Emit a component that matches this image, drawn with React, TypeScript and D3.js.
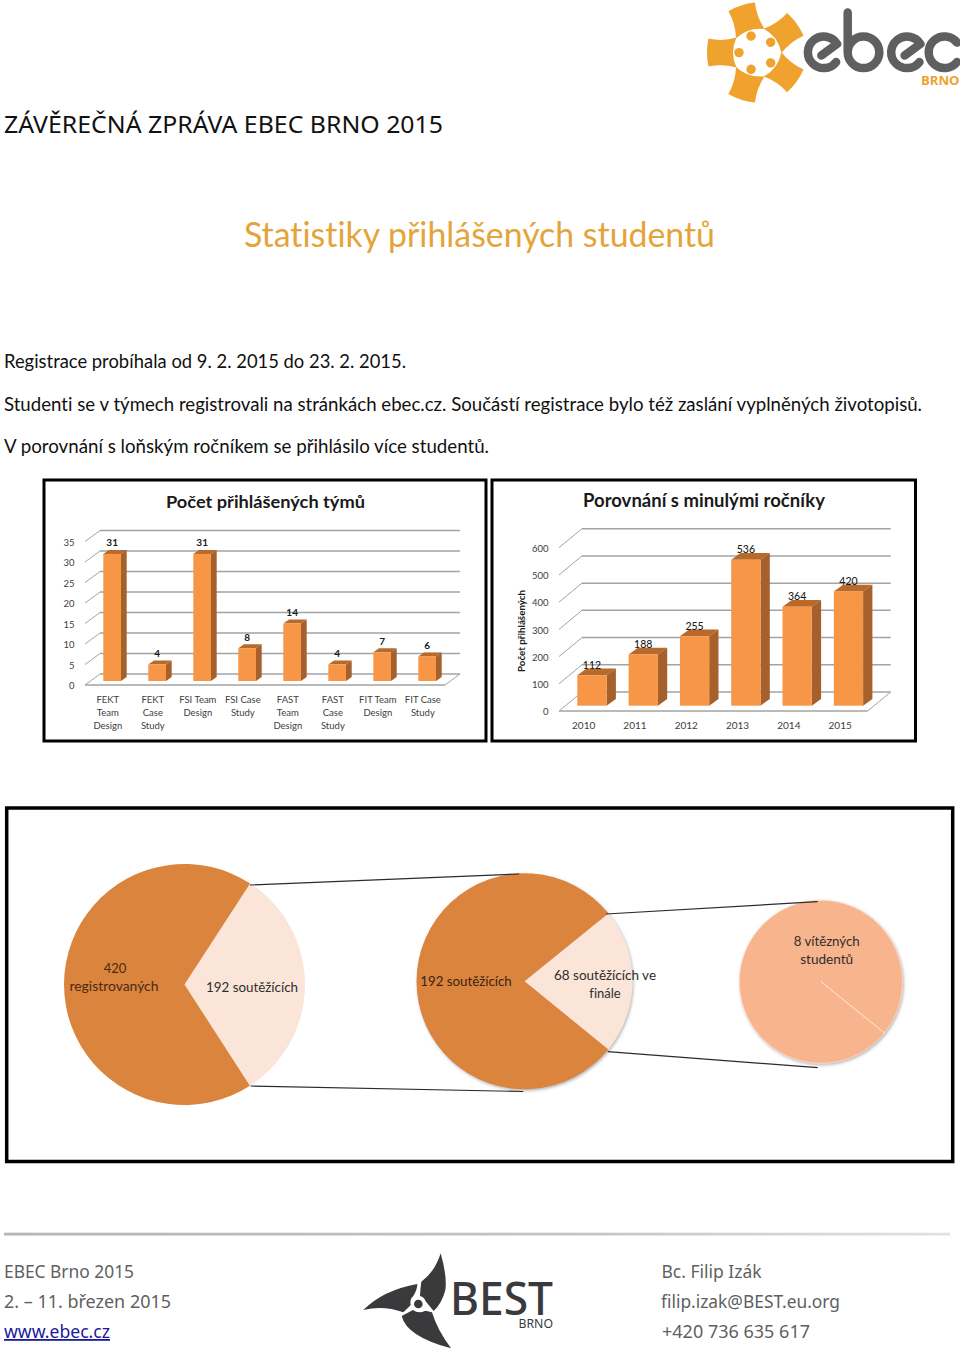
import React from "react";
import * as d3 from "d3";

// ---------- data ----------
const teamCategories = ["FEKT Team Design", "FEKT Case Study", "FSI Team Design", "FSI Case Study", "FAST Team Design", "FAST Case Study", "FIT Team Design", "FIT Case Study"];
const teamCategoryLines = [["FEKT", "Team", "Design"], ["FEKT", "Case", "Study"], ["FSI Team", "Design"], ["FSI Case", "Study"], ["FAST", "Team", "Design"], ["FAST", "Case", "Study"], ["FIT Team", "Design"], ["FIT Case", "Study"]];
const teamValues = [31, 4, 31, 8, 14, 4, 7, 6];
const teamTicks = [0, 5, 10, 15, 20, 25, 30, 35];

const years = ["2010", "2011", "2012", "2013", "2014", "2015"];
const yearValues = [112, 188, 255, 536, 364, 420];
const yearTicks = [0, 100, 200, 300, 400, 500, 600];

// slice shares as drawn in the picture (not proportional to the captions)
const pieOneShares = [0.317, 0.683];
const pieTwoShares = [0.217, 0.783];
const pieThreeShares = [0.9995, 0.0005];

const bodyLines = [
  "Registrace probíhala od 9. 2. 2015 do 23. 2. 2015.",
  "Studenti se v týmech registrovali na stránkách ebec.cz. Součástí registrace bylo též zaslání vyplněných životopisů.",
  "V porovnání s loňským ročníkem se přihlásilo více studentů.",
];

const LATO = "Lato, sans-serif";
const NOTO = "'Noto Sans', sans-serif";
const ORANGE_FRONT = "#F79646";
const ORANGE_TOP = "#B96A2A";
const ORANGE_SIDE = "#A5602C";
const GRID = "#a3a3a3";
const PIE_DARK = "#DB843D";
const PIE_LIGHT = "#FBE5D9";
const PIE_PEACH = "#F8B48C";

type TProps = { x: number; y: number; w?: number; size: number; fill?: string; font?: string; weight?: number | string; anchor?: string; children: React.ReactNode; underline?: boolean; transform?: string };
function T({ x, y, w, size, fill = "#111", font = LATO, weight = 400, anchor = "start", children, underline, transform }: TProps) {
  return (
    <text x={x} y={y} fontSize={size} fill={fill} fontFamily={font} fontWeight={weight} textAnchor={anchor}
      textLength={w} lengthAdjust={w ? "spacingAndGlyphs" : undefined} textDecoration={underline ? "underline" : undefined} transform={transform}
      style={{ fontVariantLigatures: "none" }}>
      {children}
    </text>
  );
}

type Bar3DProps = {
  categories: string[]; values: number[]; ticks: number[];
  x: d3.ScaleBand<string>; y: d3.ScaleLinear<number, number>;
  wall: [number, number]; floorRight: number; barDepth: [number, number]; barLift: number; tickX: number;
  labelOffset: number; labelWeight: number; labelSize: number;
};
function Bars3D({ categories, values, ticks, x, y, wall, floorRight, barDepth, barLift, tickX, labelOffset, labelWeight, labelSize }: Bar3DProps) {
  const [wx, wy] = wall;
  const [dx, dy] = barDepth;
  const bw = x.bandwidth();
  const frontLeft = tickX + 10.5;
  return (
    <g>
      {ticks.map((t) => (
        <g key={t}>
          <line x1={frontLeft} y1={y(t)} x2={frontLeft + wx} y2={y(t) + wy} stroke={GRID} strokeWidth={1} />
          <line x1={frontLeft + wx} y1={y(t) + wy} x2={floorRight + wx} y2={y(t) + wy} stroke={GRID} strokeWidth={1.5} />
          <text x={tickX} y={y(t)} dy="0.45em" textAnchor="end" fontSize={9.5} fontFamily={LATO} fill="#404040">{t}</text>
        </g>
      ))}
      <line x1={frontLeft} y1={y(0)} x2={floorRight} y2={y(0)} stroke={GRID} strokeWidth={1.5} />
      <line x1={floorRight} y1={y(0)} x2={floorRight + wx} y2={y(0) + wy} stroke={GRID} strokeWidth={1} />
      {categories.map((c, i) => {
        const bx = x(c) as number;
        const base = y(0) - barLift;
        const top = y(values[i]) - barLift;
        return (
          <g key={c}>
            <path d={`M${bx},${top}L${bx + dx},${top + dy}L${bx + bw + dx},${top + dy}L${bx + bw},${top}Z`} fill={ORANGE_TOP} />
            <path d={`M${bx + bw},${top}L${bx + bw + dx},${top + dy}L${bx + bw + dx},${base + dy}L${bx + bw},${base}Z`} fill={ORANGE_SIDE} />
            <rect x={bx} y={top} width={bw} height={base - top} fill={ORANGE_FRONT} />
            <text x={bx + bw / 2} y={top - labelOffset} dy="0.35em" textAnchor="middle" fontSize={labelSize} fontWeight={labelWeight} fontFamily={LATO} fill="#1a1a1a">{values[i]}</text>
          </g>
        );
      })}
    </g>
  );
}

function Pie({ shares, cx, cy, r, start, fills, stroke, strokeWidth, filter }: { shares: number[]; cx: number; cy: number; r: number; start: number; fills: string[]; stroke?: string; strokeWidth?: number; filter?: string }) {
  const rad = (start * Math.PI) / 180;
  const slices = d3.pie<number>().sort(null).startAngle(rad).endAngle(rad + 2 * Math.PI)(shares);
  const arc = d3.arc<d3.PieArcDatum<number>>().innerRadius(0).outerRadius(r);
  return (
    <g transform={`translate(${cx},${cy})`} filter={filter}>
      {slices.map((s, i) => (
        <path key={i} d={arc(s) as string} fill={fills[i]} stroke={stroke} strokeWidth={strokeWidth} />
      ))}
    </g>
  );
}

function ebecE(cx: number, cy: number, r: number) {
  const a = (38 * Math.PI) / 180, b = (-32 * Math.PI) / 180;
  return `M${cx + r * Math.cos(a)},${cy + r * Math.sin(a)}A${r},${r} 0 1 1 ${cx + r * Math.cos(b)},${cy + r * Math.sin(b)}L${cx - 0.15 * r},${cy + 0.2 * r}`;
}
function ebecC(cx: number, cy: number, r: number) {
  const a = (38 * Math.PI) / 180;
  return `M${cx + r * Math.cos(a)},${cy + r * Math.sin(a)}A${r},${r} 0 1 1 ${cx + r * Math.cos(a)},${cy - r * Math.sin(a)}`;
}

function EbecLogo() {
  const c: [number, number] = [756.5, 52.6];
  const angles = [-18, 54, 126, 198, 270];
  const gold = "#EFA22D";
  return (
    <g>
      {angles.map((a) => (
        <g key={a} transform={`translate(${c[0]},${c[1]}) rotate(${a})`}>
          <path d="M-15,-20Q0,-27 15,-20Q11,-34 14,-48Q0,-51 -14,-48Q-11,-34 -15,-20Z" fill={gold} />
          <circle cx={0} cy={-17.5} r={4.7} fill={gold} />
        </g>
      ))}
      <g fill="none" stroke="#5E5F61" strokeWidth={8.5} strokeLinecap="round" strokeLinejoin="round">
        <path d={ebecE(823.7, 52.3, 15.8)} />
        <path d={`M847.7,12.5V52.3A15.8,15.8 0 1 0 863.5,36.5A15.8,15.8 0 0 0 847.7,52.3`} />
        <path d={ebecE(907, 52.3, 15.8)} />
        <path d={ebecC(944.5, 52.3, 15.8)} />
      </g>
      <T x={921} y={85} w={38.5} size={12.5} weight={700} font="'Open Sans', sans-serif" fill={gold}>BRNO</T>
    </g>
  );
}

function BestLogo() {
  const ink = "#3A3A3C";
  return (
    <g>
      <g transform="translate(340,1240) scale(0.3333)" fill={ink}>
        <path d="M302,40Q322,110 316,150Q306,190 281,213L258,185Q253,172 240,168Q241,145 244,125Q285,95 302,40Z" />
        <path d="M70,210Q130,150 232,132Q232,148 220,168Q208,178 212,196L190,217Q130,195 70,210Z" />
        <path d="M333,325Q292,270 276,217L256,212Q235,222 219,210L185,228Q200,290 333,325Z" />
        <circle cx={235} cy={192} r={13} />
      </g>
      <T x={450} y={1315} w={103} size={45} font={NOTO} weight={500} fill={ink}>BEST</T>
      <T x={518.5} y={1328} w={34.5} size={13} font={NOTO} fill={ink}>BRNO</T>
    </g>
  );
}

export default function App() {
  const teamX = d3.scaleBand<string>().domain(teamCategories).range([103.3, 436]).paddingInner(0.607).paddingOuter(0);
  const teamY = d3.scaleLinear().domain([0, 35]).range([685, 541.5]);
  const yearX = d3.scaleBand<string>().domain(years).range([577.3, 863.1]).paddingInner(0.429).paddingOuter(0);
  const yearY = d3.scaleLinear().domain([0, 600]).range([711, 547.7]);

  return (
    <svg width={960} height={1352} viewBox="0 0 960 1352" style={{ position: "absolute", left: 0, top: 0, background: "#fff" }}>
      <defs>
        <filter id="pieShadow" x="-10%" y="-10%" width="120%" height="120%">
          <feDropShadow dx={1} dy={1.5} stdDeviation={1.5} floodColor="#777" floodOpacity={0.55} />
        </filter>
        <linearGradient id="rule" x1="0" x2="1" y1="0" y2="0">
          <stop offset="0" stopColor="#b5b5b5" />
          <stop offset="0.6" stopColor="#c4c4c4" />
          <stop offset="1" stopColor="#e2e2e2" />
        </linearGradient>
      </defs>

      <EbecLogo />

      <T x={4} y={133} w={439} size={24} font={NOTO} fill="#111">ZÁVĚREČNÁ ZPRÁVA EBEC BRNO 2015</T>
      <T x={244} y={247} w={471} size={34} fill="#E5A43A">Statistiky přihlášených studentů</T>

      <T x={4} y={367.7} w={402} size={18.5}>{bodyLines[0]}</T>
      <T x={4} y={410.7} w={918} size={18.5}>{bodyLines[1]}</T>
      <T x={4} y={453.3} w={485} size={18.5}>{bodyLines[2]}</T>

      {/* chart 1 */}
      <rect x={44} y={480} width={442} height={261} fill="#fff" stroke="#000" strokeWidth={3} />
      <T x={166} y={508} w={199} size={17.5} weight={700} fill="#1a1a1a">Počet přihlášených týmů</T>
      <Bars3D categories={teamCategories} values={teamValues} ticks={teamTicks} x={teamX} y={teamY}
        wall={[15, -11]} floorRight={445} barDepth={[5.7, -4]} barLift={4} tickX={74.5}
        labelOffset={11} labelWeight={700} labelSize={10} />
      {teamCategories.map((c, i) =>
        teamCategoryLines[i].map((line, j) => (
          <text key={c + j} x={(teamX(c) as number) + teamX.bandwidth() / 2 - 4.3} y={700 + j * 13} dy="0.35em" textAnchor="middle" fontSize={9.5} fontFamily={LATO} fill="#404040">{line}</text>
        ))
      )}

      {/* chart 2 */}
      <rect x={492} y={480} width={423.5} height={261} fill="#fff" stroke="#000" strokeWidth={3} />
      <T x={583} y={507} w={242} size={18} weight={700} fill="#1a1a1a">Porovnání s minulými ročníky</T>
      <Bars3D categories={years} values={yearValues} ticks={yearTicks} x={yearX} y={yearY}
        wall={[23, -19]} floorRight={867.7} barDepth={[9.3, -6.7]} barLift={5.3} tickX={548.5}
        labelOffset={10} labelWeight={500} labelSize={10.5} />
      {years.map((c) => (
        <text key={c} x={(yearX(c) as number) + yearX.bandwidth() / 2 - 8.3} y={725.7} dy="0.35em" textAnchor="middle" fontSize={10} fontFamily={LATO} fill="#404040">{c}</text>
      ))}
      <T x={0} y={0} size={9.5} weight={700} anchor="middle" fill="#1a1a1a" w={82} transform="translate(525,631) rotate(-90)">Počet přihlášených</T>

      {/* funnel frame */}
      <rect x={6.7} y={808} width={946} height={353.5} fill="#fff" stroke="#000" strokeWidth={3.5} />

      <Pie shares={pieOneShares} cx={184.5} cy={984.5} r={120.5} start={33} fills={[PIE_LIGHT, PIE_DARK]} />
      <Pie shares={pieTwoShares} cx={524.5} cy={981.3} r={108} start={51} fills={[PIE_LIGHT, PIE_DARK]} filter="url(#pieShadow)" />
      <Pie shares={pieThreeShares} cx={821} cy={981.7} r={81.5} start={129} fills={[PIE_PEACH, PIE_PEACH]} stroke="#FBDCC8" strokeWidth={0.8} filter="url(#pieShadow)" />

      <g stroke="#2b2b2b" strokeWidth={1.2}>
        <line x1={250} y1={885} x2={519.3} y2={874} />
        <line x1={250.7} y1={1086} x2={523.3} y2={1091.5} />
        <line x1={606} y1={914} x2={817.7} y2={901.7} />
        <line x1={607.7} y1={1051.7} x2={817.7} y2={1067.7} />
      </g>

      <g>
        <T x={115} y={972.5} size={13} anchor="middle" fill="#4a2a12">420</T>
        <T x={114} y={990.5} w={89} size={13} anchor="middle" fill="#4a2a12">registrovaných</T>
        <T x={252} y={991.5} w={92} size={13} anchor="middle" fill="#2e2e2e">192 soutěžících</T>
        <T x={466} y={986} w={91.5} size={13} anchor="middle" fill="#3a2414">192 soutěžících</T>
        <T x={605} y={979.5} w={102} size={13} anchor="middle" fill="#2e2e2e">68 soutěžících ve</T>
        <T x={605} y={997.5} size={13} anchor="middle" fill="#2e2e2e">finále</T>
        <T x={826.7} y={945.5} w={66} size={13} anchor="middle" fill="#2e2e2e">8 vítězných</T>
        <T x={826.7} y={963.5} w={53} size={13} anchor="middle" fill="#2e2e2e">studentů</T>
      </g>

      {/* footer */}
      <rect x={4} y={1232.7} width={946} height={2.8} fill="url(#rule)" />
      <T x={4} y={1278} w={130} size={18} font={NOTO} fill="#5f5f5f">EBEC Brno 2015</T>
      <T x={4} y={1308} w={167} size={18} font={NOTO} fill="#5f5f5f">2. – 11. březen 2015</T>
      <T x={4} y={1338} w={106} size={18} font={NOTO} fill="#1a1a9c" underline>www.ebec.cz</T>
      <T x={661.5} y={1278} w={100} size={18} font={NOTO} fill="#5f5f5f">Bc. Filip Izák</T>
      <T x={661} y={1308} w={179} size={18} font={NOTO} fill="#5f5f5f">filip.izak@BEST.eu.org</T>
      <T x={662} y={1338} w={148} size={18} font={NOTO} fill="#5f5f5f">+420 736 635 617</T>

      <BestLogo />
    </svg>
  );
}
